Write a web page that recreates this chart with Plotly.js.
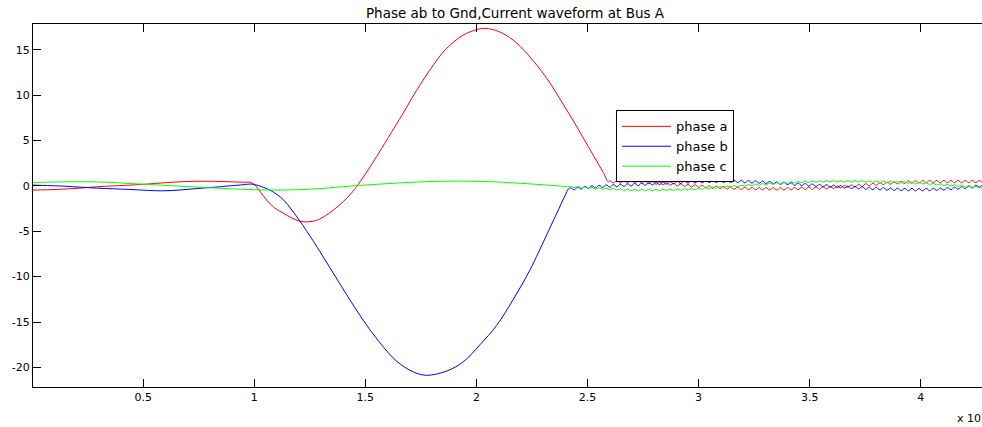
<!DOCTYPE html>
<html><head><meta charset="utf-8">
<script src="https://cdn.plot.ly/plotly-3.0.1.min.js"></script>
<style>html,body{margin:0;padding:0;overflow:hidden;background:#fff}</style>
</head><body><div id="chart" style="width:1000px;height:427px"></div>
<script>
// ---- data (time in units of 1e4, current in A) ----
const seriesNames = ['phase a', 'phase b', 'phase c'];

const aTime = [0, 0.07, 0.14, 0.22, 0.29, 0.37, 0.44, 0.52, 0.59, 0.67, 0.74, 0.82, 0.89, 0.95, 0.98, 0.995, 1.01, 1.03, 1.056, 1.09, 1.13, 1.17, 1.206, 1.24, 1.28, 1.32, 1.36, 1.40, 1.43, 1.454, 1.50, 1.55, 1.60, 1.67, 1.73, 1.79, 1.86, 1.94, 2.0, 2.04, 2.1, 2.165, 2.23, 2.294, 2.34, 2.39, 2.44, 2.48, 2.53, 2.57, 2.594];
const aCurrent = [-0.47, -0.43, -0.36, -0.24, -0.1, 0.0, 0.08, 0.2, 0.33, 0.45, 0.5, 0.5, 0.45, 0.4, 0.4, 0.25, -0.1, -0.75, -1.58, -2.4, -3.0, -3.55, -3.9, -3.97, -3.8, -3.3, -2.6, -1.75, -1.0, -0.3, 1.3, 3.2, 5.2, 8.0, 10.5, 12.75, 15.0, 16.6, 17.2, 17.35, 17.0, 16.06, 14.5, 12.6, 11.0, 9.0, 7.0, 5.3, 3.2, 1.5, 0.44];
const aRippleStart = 2.600;
const aRipple = [0.58,0.32,0.58,0.31,0.57,0.30,0.56,0.29,0.54,0.27,
 0.52,0.23,0.46,0.17,0.40,0.12,0.35,0.06,0.29,0.00,
 0.23,-0.07,0.16,-0.12,0.12,-0.17,0.06,-0.22,0.02,-0.27,
 -0.03,-0.31,-0.07,-0.35,-0.10,-0.38,-0.13,-0.40,-0.15,-0.42,
 -0.17,-0.44,-0.19,-0.45,-0.20,-0.46,-0.20,-0.46,-0.20,-0.46,
 -0.19,-0.45,-0.18,-0.43,-0.16,-0.41,-0.14,-0.39,-0.12,-0.37,
 -0.10,-0.35,-0.07,-0.30,-0.01,-0.24,0.05,-0.18,0.11,-0.12,
 0.17,-0.06,0.23,0.00,0.29,0.06,0.35,0.12,0.41,0.18,
 0.46,0.22,0.50,0.26,0.54,0.29,0.56,0.31,0.58,0.33,
 0.60,0.34,0.60,0.34,0.60,0.34,0.60,0.34,0.60,0.34,
 0.60,0.34,0.60,0.34,0.60,0.34,0.60,0.34,0.60,0.34];

const bTime = [0, 0.07, 0.14, 0.22, 0.29, 0.37, 0.44, 0.52, 0.59, 0.67, 0.74, 0.82, 0.89, 0.95, 0.98, 1.0, 1.04, 1.08, 1.13, 1.17, 1.206, 1.266, 1.34, 1.416, 1.49, 1.566, 1.64, 1.716, 1.776, 1.866, 1.94, 2.016, 2.09, 2.166, 2.24, 2.28, 2.32, 2.36, 2.40, 2.414];
const bCurrent = [0.08, 0.03, -0.03, -0.15, -0.25, -0.33, -0.4, -0.5, -0.55, -0.45, -0.3, -0.15, 0.0, 0.12, 0.2, 0.15, -0.15, -0.6, -1.5, -2.7, -3.9, -6.1, -9.0, -12.0, -14.8, -17.3, -19.3, -20.5, -20.87, -20.4, -19.4, -17.5, -15.4, -12.5, -9.3, -7.3, -5.2, -3.1, -1.0, -0.35];
const bRippleStart = 2.424;
const bRipple = [-0.22,-0.44,-0.14,-0.36,-0.06,-0.28,0.02,-0.22,0.06,-0.18,
 0.10,-0.14,0.14,-0.10,0.18,-0.06,0.22,-0.02,0.26,0.02,
 0.30,0.06,0.34,0.10,0.38,0.14,0.42,0.18,0.46,0.22,
 0.50,0.26,0.54,0.30,0.57,0.32,0.59,0.34,0.61,0.36,
 0.62,0.37,0.63,0.37,0.63,0.36,0.62,0.35,0.60,0.33,
 0.58,0.31,0.56,0.29,0.53,0.25,0.49,0.21,0.44,0.16,
 0.39,0.11,0.34,0.06,0.30,0.02,0.26,-0.03,0.21,-0.07,
 0.17,-0.11,0.13,-0.15,0.08,-0.20,0.04,-0.24,-0.01,-0.29,
 -0.05,-0.33,-0.10,-0.38,-0.14,-0.42,-0.17,-0.45,-0.20,-0.48,
 -0.24,-0.51,-0.26,-0.53,-0.27,-0.54,-0.28,-0.55,-0.29,-0.55,
 -0.28,-0.53,-0.26,-0.51,-0.24,-0.48,-0.20,-0.43,-0.14,-0.37,
 -0.08,-0.31,-0.01,-0.23,0.07,-0.15,0.15,-0.07,0.23,0.00,0.29];

const cTime = [0, 0.07, 0.14, 0.22, 0.29, 0.37, 0.44, 0.52, 0.59, 0.67, 0.74, 0.82, 0.89, 0.95, 1.0, 1.06, 1.13, 1.2, 1.28, 1.386, 1.45, 1.55, 1.65, 1.75, 1.83, 1.91, 2.0, 2.1, 2.2, 2.3, 2.38, 2.41];
const cCurrent = [0.37, 0.41, 0.44, 0.45, 0.43, 0.36, 0.26, 0.16, 0.06, -0.04, -0.14, -0.24, -0.32, -0.38, -0.42, -0.46, -0.46, -0.42, -0.33, -0.12, 0.0, 0.17, 0.32, 0.44, 0.5, 0.52, 0.5, 0.42, 0.28, 0.12, -0.03, -0.09];
const cRippleStart = 2.424;
const cRipple = [-0.04,-0.22,-0.08,-0.26,-0.12,-0.30,-0.16,-0.34,-0.20,-0.38,
 -0.24,-0.42,-0.28,-0.46,-0.32,-0.50,-0.35,-0.52,-0.37,-0.54,
 -0.38,-0.55,-0.39,-0.55,-0.39,-0.55,-0.38,-0.53,-0.36,-0.51,
 -0.34,-0.49,-0.31,-0.46,-0.29,-0.43,-0.24,-0.38,-0.19,-0.32,
 -0.14,-0.27,-0.08,-0.21,-0.02,-0.15,0.03,-0.10,0.09,-0.04,
 0.14,0.01,0.20,0.06,0.25,0.11,0.30,0.17,0.35,0.22,
 0.40,0.27,0.46,0.32,0.49,0.35,0.52,0.37,0.54,0.39,
 0.56,0.41,0.58,0.42,0.58,0.42,0.58,0.42,0.58,0.42,
 0.58,0.42,0.57,0.40,0.55,0.38,0.53,0.36,0.51,0.35,
 0.50,0.34,0.48,0.30,0.44,0.27,0.42,0.24,0.39,0.21,
 0.34,0.15,0.28,0.09,0.22,0.03,0.17,-0.01,0.13,-0.05,
 0.09,-0.13,0.00,-0.19,-0.06,-0.25,-0.12,-0.30,-0.16,-0.34,-0.20];
const rippleStep = 0.016;

const xTickVals = [0.5, 1, 1.5, 2, 2.5, 3, 3.5, 4];
const xTickText = ['0.5', '1', '1.5', '2', '2.5', '3', '3.5', '4'];
const yTickVals = [-20, -15, -10, -5, 0, 5, 10, 15];
const yTickText = ['-20', '-15', '-10', '-5', '0', '5', '10', '15'];

// ---- build traces ----
function join(t, v, start, rip) {
  const x = t.slice(), y = v.slice();
  rip.forEach((val, i) => { x.push(+(start + i * rippleStep).toFixed(4)); y.push(val); });
  return {x, y};
}
const A = join(aTime, aCurrent, aRippleStart, aRipple);
const B = join(bTime, bCurrent, bRippleStart, bRipple);
const C = join(cTime, cCurrent, cRippleStart, cRipple);
const colors = ['#ff0000', '#0000ff', '#00ff00'];
const traces = [A, B, C].map((d, i) => ({
  x: d.x, y: d.y, type: 'scatter', mode: 'lines', name: seriesNames[i],
  line: {color: colors[i], width: 1, shape: 'spline', smoothing: 1}
}));

const font = 'DejaVu Sans, Liberation Sans, Arial, sans-serif';
const axisCommon = {
  showgrid: false, zeroline: false, showline: true, mirror: 'ticks',
  linecolor: '#000', linewidth: 1, ticks: 'inside', ticklen: 8, tickcolor: '#000',
  tickfont: {family: font, size: 11, color: '#000'}
};
const layout = {
  width: 1000, height: 427,
  margin: {l: 33, r: 3, t: 24, b: 40},
  paper_bgcolor: '#fff', plot_bgcolor: '#fff',
  title: {text: 'Phase ab to Gnd,Current waveform at Bus A', font: {family: font, size: 13.5, color: '#000'},
          x: 0.5, xref: 'paper', xanchor: 'center', y: 0.97, yref: 'container', yanchor: 'middle'},
  xaxis: Object.assign({}, axisCommon, {range: [0.004, 4.343], tickmode: 'array', tickvals: xTickVals, ticktext: xTickText}),
  yaxis: Object.assign({}, axisCommon, {range: [-22.16, 17.83], tickmode: 'array', tickvals: yTickVals, ticktext: yTickText}),
  showlegend: true,
  legend: {x: 0.6048, y: 0.762, xanchor: 'left', yanchor: 'top', bgcolor: '#fff', bordercolor: '#000', borderwidth: 1,
           itemwidth: 49, font: {family: font, size: 13, color: '#000'}, tracegroupgap: 0},
  annotations: [{text: 'x 10', xref: 'paper', yref: 'paper', x: 0.9564, y: -0.0854, xanchor: 'left', yanchor: 'middle',
                 showarrow: false, font: {family: font, size: 11, color: '#000'}}]
};
Plotly.newPlot('chart', traces, layout, {displayModeBar: false, staticPlot: true});
</script>
</body></html>
